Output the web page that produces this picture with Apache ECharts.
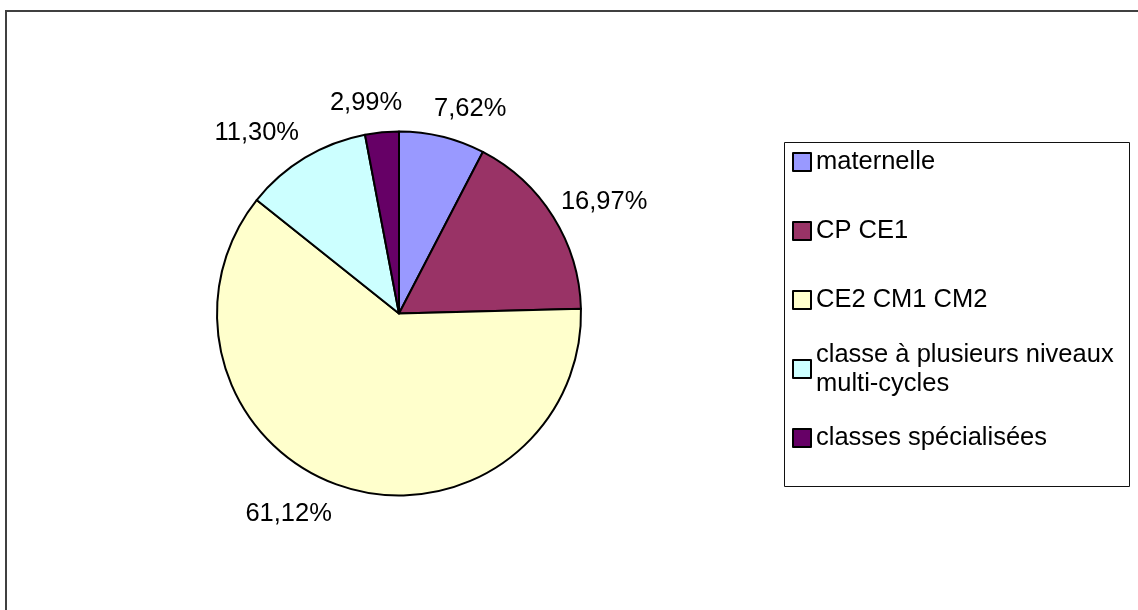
<!DOCTYPE html>
<html>
<head>
<meta charset="utf-8">
<script src="https://cdn.jsdelivr.net/npm/echarts@6/dist/echarts.min.js"></script>
<style>
  html, body { margin: 0; padding: 0; background: #fff; }
  #chart { width: 1138px; height: 610px; }
</style>
</head>
<body>
<div id="chart"></div>
<script>
const categories = ['maternelle', 'CP CE1', 'CE2 CM1 CM2', 'classe à plusieurs niveaux multi-cycles', 'classes spécialisées'];
const legendLabels = ['maternelle', 'CP CE1', 'CE2 CM1 CM2', 'classe à plusieurs niveaux\nmulti-cycles', 'classes spécialisées'];
const percents = [7.62, 16.97, 61.12, 11.30, 2.99];
const colors = ['#9999FF', '#993366', '#FFFFCC', '#CCFFFF', '#660066'];
// how far each outside label is pulled back toward the pie (label placement)
const labelPull = [-20, -22, -5, -14, -28];

const FONT = "'Liberation Sans', Arial, sans-serif";
const LINE_H = 29;

const chart = echarts.init(document.getElementById('chart'));

const option = {
  animation: false,
  backgroundColor: '#fff',
  color: colors,
  textStyle: { fontFamily: FONT },
  graphic: [
    {
      type: 'rect',
      shape: { x: 6, y: 11, width: 1200, height: 700 },
      style: { fill: 'none', stroke: '#404040', lineWidth: 2 },
      silent: true
    },
    {
      type: 'rect',
      shape: { x: 784.5, y: 142.5, width: 345, height: 344 },
      style: { fill: 'none', stroke: '#111', lineWidth: 1 },
      silent: true
    }
  ],
  legend: {
    orient: 'vertical',
    left: 792,
    top: 153 + 9 - LINE_H * 1.5,
    padding: 0,
    itemGap: 69 - LINE_H * 3,
    itemWidth: 18,
    itemHeight: 18,
    icon: 'rect',
    selectedMode: false,
    itemStyle: { borderColor: '#000', borderWidth: 2 },
    textStyle: {
      fontFamily: FONT,
      fontSize: 25.5,
      color: '#000',
      lineHeight: LINE_H,
      padding: [LINE_H, 0, LINE_H, 0]
    },
    formatter: function (name) {
      return legendLabels[categories.indexOf(name)];
    },
    data: categories.map(function (c, i) {
      return i === 3
        ? { name: c, textStyle: { padding: [LINE_H, 0, 0, 0] } }
        : { name: c };
    })
  },
  series: [
    {
      type: 'pie',
      center: [399, 313.5],
      radius: 182,
      startAngle: 90,
      clockwise: true,
      avoidLabelOverlap: false,
      itemStyle: { borderColor: '#000', borderWidth: 2 },
      emphasis: { disabled: true },
      label: {
        show: true,
        position: 'outside',
        color: '#000',
        fontFamily: FONT,
        fontSize: 25.5,
        distanceToLabelLine: 5,
        formatter: function (p) {
          return p.value.toFixed(2).replace('.', ',') + '%';
        }
      },
      labelLine: {
        show: true,
        length: 29,
        length2: 0,
        lineStyle: { opacity: 0, width: 0 }
      },
      data: categories.map(function (c, i) {
        return {
          name: c,
          value: percents[i],
          labelLine: { length2: labelPull[i] }
        };
      })
    }
  ]
};

chart.setOption(option);
</script>
</body>
</html>
